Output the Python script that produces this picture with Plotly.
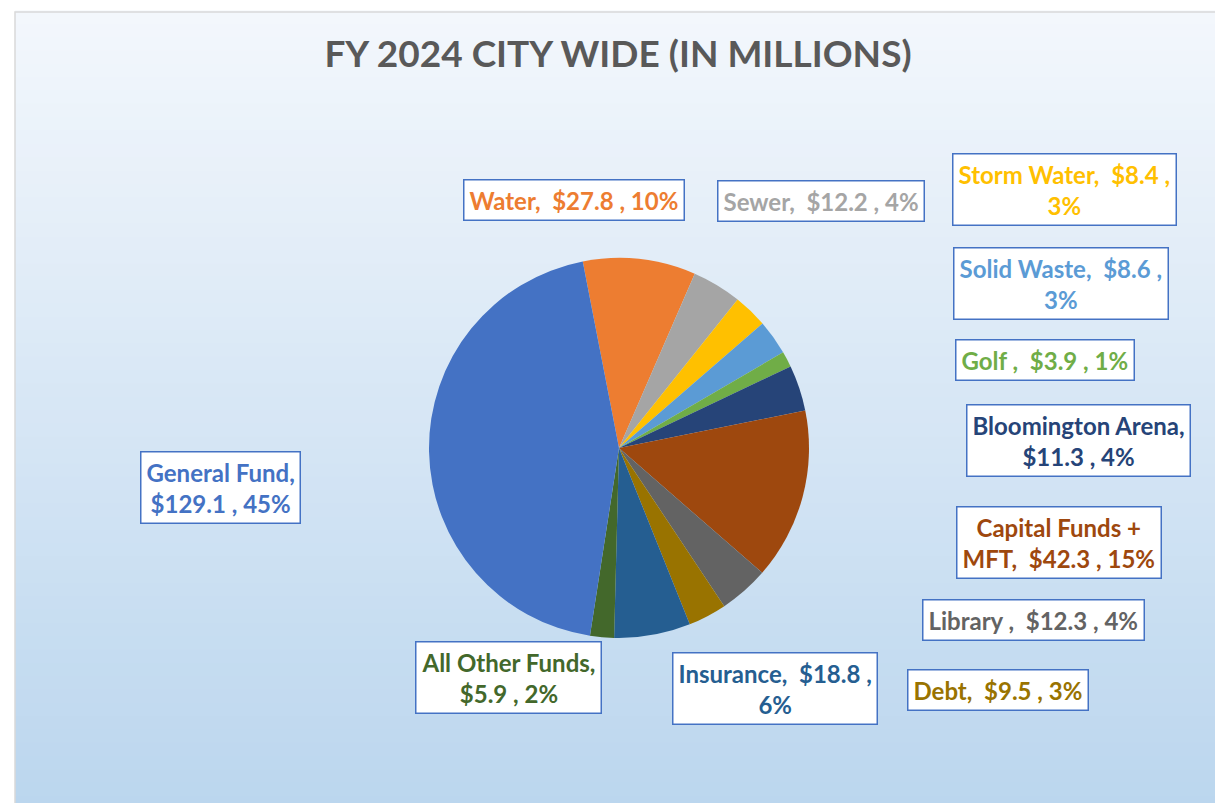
import plotly.graph_objects as go

# ---- data (clockwise from the top) ----
categories = ["Water", "Sewer", "Storm Water", "Solid Waste", "Golf ", "Bloomington Arena",
              "Capital Funds + MFT", "Library ", "Debt", "Insurance", "All Other Funds", "General Fund"]
values = [27.8, 12.2, 8.4, 8.6, 3.9, 11.3, 42.3, 12.3, 9.5, 18.8, 5.9, 129.1]

# ---- styles ----
slice_colors = ["#ED7D31", "#A5A5A5", "#FFC000", "#5B9BD5", "#70AD47", "#264478",
                "#9E480E", "#636363", "#997300", "#255E91", "#43682B", "#4472C4"]
# label layout: where the line break goes ("name" = after name, "value" = after value, None = one line)
label_breaks = [None, None, "value", "value", None, "name", "capital", None, None, "value", "name", "name"]
# label box centres in pixels (x, y) of the 1223x803 page
label_pos = [(566, 192), (813, 193), (1056, 181), (1053, 275), (1037, 352), (1070, 432),
             (1051, 534), (1025, 612), (990, 682), (767, 680), (500, 669), (212, 480)]

W, H = 1223, 803
total = sum(values)
GAP = "&nbsp; "

fig = go.Figure()

R = 190
CX, CY = 611, 440
fig.add_trace(go.Pie(
    labels=categories,
    values=values,
    sort=False,
    direction="clockwise",
    rotation=-11,
    marker=dict(colors=slice_colors, line=dict(width=0)),
    textinfo="none",
    hoverinfo="label+value+percent",
    showlegend=False,
    domain=dict(x=[(CX - R) / W, (CX + R) / W], y=[1 - (CY + R) / H, 1 - (CY - R) / H]),
))

# background gradient (chart area)
shapes = []
n = 60
top_rgb = (243, 247, 252)
bot_rgb = (187, 214, 238)
x0, x1 = 7 / W, 1
y_top, y_bot = 1 - 4 / H, 0
for i in range(n):
    t = i / (n - 1)
    r = round(top_rgb[0] + (bot_rgb[0] - top_rgb[0]) * t)
    g = round(top_rgb[1] + (bot_rgb[1] - top_rgb[1]) * t)
    b = round(top_rgb[2] + (bot_rgb[2] - top_rgb[2]) * t)
    ya = y_top - (y_top - y_bot) * i / n
    yb = y_top - (y_top - y_bot) * (i + 1) / n
    shapes.append(dict(type="rect", xref="paper", yref="paper", x0=x0, x1=x1, y0=yb, y1=ya + 0.002,
                       fillcolor=f"rgb({r},{g},{b})", line=dict(width=0), layer="below"))
shapes.append(dict(type="rect", xref="paper", yref="paper", x0=x0, x1=x1 + 0.01, y0=-0.01, y1=y_top,
                   fillcolor="rgba(0,0,0,0)", line=dict(color="#D9D9D9", width=1.5), layer="below"))

annotations = []
for name, v, col, brk, (px, py) in zip(categories, values, slice_colors, label_breaks, label_pos):
    pct = round(v / total * 100)
    if brk == "name":
        txt = f"{name},<br>${v} , {pct}%"
    elif brk == "value":
        txt = f"{name},{GAP}${v} ,<br>{pct}%"
    elif brk == "capital":
        first, rest = name.split(" + ")
        txt = f"{first} +<br>{rest},{GAP}${v} , {pct}%"
    else:
        txt = f"{name},{GAP}${v} , {pct}%"
    annotations.append(dict(
        x=px / W, y=1 - py / H, xref="paper", yref="paper", showarrow=False,
        text=txt, align="center", xanchor="center", yanchor="middle",
        font=dict(family="Lato", size=24, color=col, weight="bold"),
        bgcolor="white", bordercolor="#4472C4", borderwidth=1.5, borderpad=5,
    ))

fig.update_layout(
    width=W, height=H,
    margin=dict(l=0, r=0, t=0, b=0),
    paper_bgcolor="white",
    title=dict(text="<b>FY 2024 CITY WIDE (IN MILLIONS)</b>", x=610 / W, xanchor="center",
               y=1 - 46 / H, yanchor="middle",
               font=dict(family="Lato", size=37, color="#595959")),
    shapes=shapes,
    annotations=annotations,
)

fig.write_html("out.html")
